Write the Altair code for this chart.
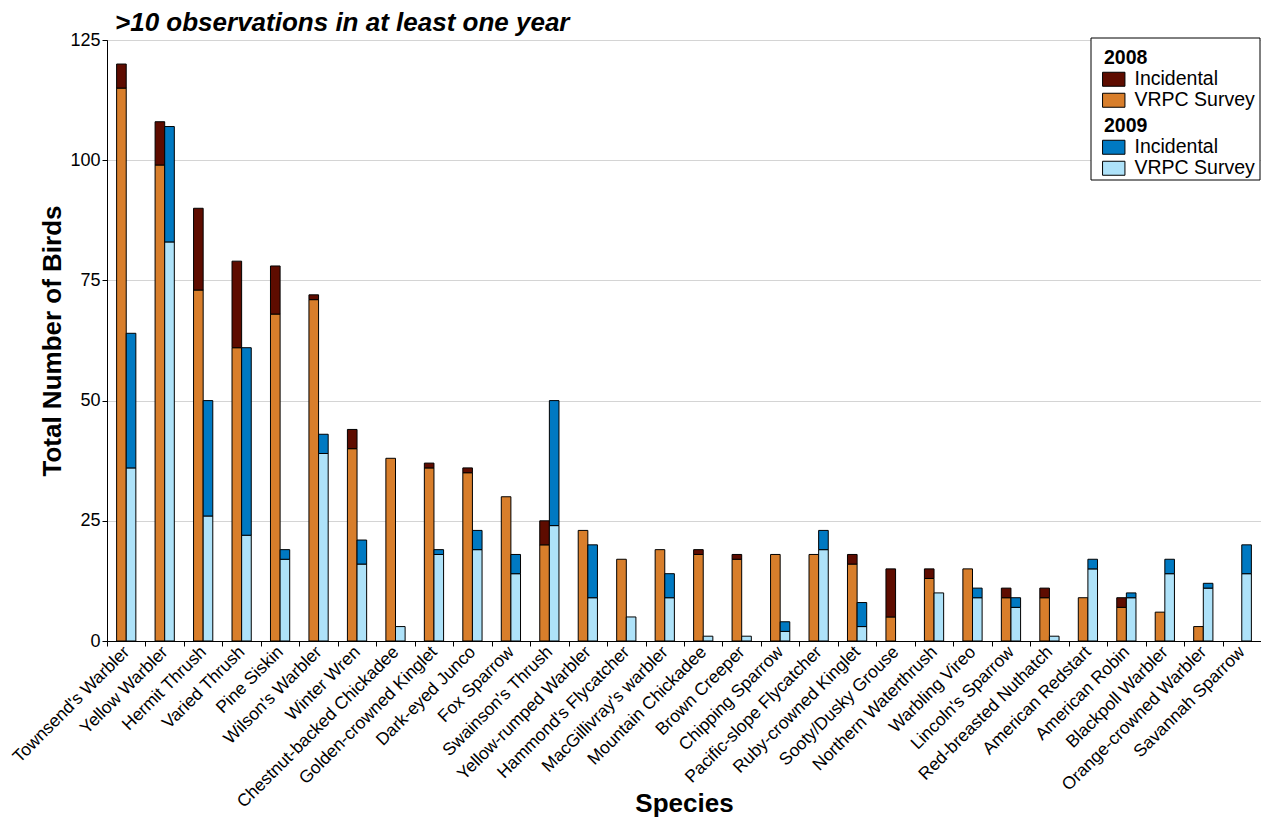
import altair as alt
import pandas as pd

species = [
    "Townsend's Warbler", "Yellow Warbler", "Hermit Thrush", "Varied Thrush", "Pine Siskin",
    "Wilson's Warbler", "Winter Wren", "Chestnut-backed Chickadee", "Golden-crowned Kinglet",
    "Dark-eyed Junco", "Fox Sparrow", "Swainson's Thrush", "Yellow-rumped Warbler",
    "Hammond's Flycatcher", "MacGillivray's warbler", "Mountain Chickadee", "Brown Creeper",
    "Chipping Sparrow", "Pacific-slope Flycatcher", "Ruby-crowned Kinglet", "Sooty/Dusky Grouse",
    "Northern Waterthrush", "Warbling Vireo", "Lincoln's Sparrow", "Red-breasted Nuthatch",
    "American Redstart", "American Robin", "Blackpoll Warbler", "Orange-crowned Warbler",
    "Savannah Sparrow",
]
vrpc_2008 = [115, 99, 73, 61, 68, 71, 40, 38, 36, 35, 30, 20, 23, 17, 19, 18, 17, 18, 18, 16, 5, 13, 15, 9, 9, 9, 7, 6, 3, 0]
incid_2008 = [5, 9, 17, 18, 10, 1, 4, 0, 1, 1, 0, 5, 0, 0, 0, 1, 1, 0, 0, 2, 10, 2, 0, 2, 2, 0, 2, 0, 0, 0]
vrpc_2009 = [36, 83, 26, 22, 17, 39, 16, 3, 18, 19, 14, 24, 9, 5, 9, 1, 1, 2, 19, 3, 0, 10, 9, 7, 1, 15, 9, 14, 11, 14]
incid_2009 = [28, 24, 24, 39, 2, 4, 5, 0, 1, 4, 4, 26, 11, 0, 5, 0, 0, 2, 4, 5, 0, 0, 2, 2, 0, 2, 1, 3, 1, 6]

years = ["2008", "2009"]
types = ["Incidental", "VRPC Survey"]
colors_2008 = ["#5e0c00", "#d87e2b"]
colors_2009 = ["#0079c2", "#aee2f9"]
y_ticks = [0, 25, 50, 75, 100, 125]

rows = []
for i, sp in enumerate(species):
    for yr, v, inc in (("2008", vrpc_2008[i], incid_2008[i]), ("2009", vrpc_2009[i], incid_2009[i])):
        if v > 0:
            rows.append({"Species": sp, "Year": yr, "Type": "VRPC Survey", "Count": v, "ord": 0})
        if inc > 0:
            rows.append({"Species": sp, "Year": yr, "Type": "Incidental", "Count": inc, "ord": 1})
df = pd.DataFrame(rows)

FONT = "Liberation Sans"
W, H = 1154, 601


def layer(year, colors, ly):
    return alt.Chart(df).transform_filter(alt.datum.Year == year).mark_bar(
        stroke="black", strokeWidth=1, opacity=1
    ).encode(
        x=alt.X("Species:N", sort=species, title="Species",
                scale=alt.Scale(paddingInner=0, paddingOuter=0),
                axis=alt.Axis(labelAngle=-45, labelAlign="right", labelBaseline="middle",
                              tickBand="extent", labelFontSize=17.5, labelLimit=0,
                              titleFontSize=26, titleY=170, titleBaseline="alphabetic",
                              labelPadding=3)),
        xOffset=alt.XOffset("Year:N", scale=alt.Scale(domain=years, paddingOuter=1.0, paddingInner=0)),
        y=alt.Y("Count:Q", stack="zero", title="Total Number of Birds",
                scale=alt.Scale(domain=[0, 125], nice=False),
                axis=alt.Axis(values=y_ticks, labelFontSize=18, titleFontSize=26,
                              titlePadding=4)),
        color=alt.Color("Type:N", scale=alt.Scale(domain=types, range=colors),
                        legend=alt.Legend(title=year, orient="none", legendX=997, legendY=ly)),
        order=alt.Order("ord:Q"),
    )


legend_frame = alt.Chart(pd.DataFrame({"k": [0]})).mark_rect(
    fill="white", stroke="black", strokeWidth=1
).encode(
    x=alt.value(984), x2=alt.value(1153), y=alt.value(-2), y2=alt.value(140)
)

chart = alt.layer(
    legend_frame, layer("2008", colors_2008, 9), layer("2009", colors_2009, 77)
).resolve_scale(
    color="independent"
).properties(
    width=W,
    height=H,
    autosize=alt.AutoSizeParams(type="none"),
    padding={"left": 99, "top": 32, "right": 0, "bottom": 176},
    title=alt.TitleParams(">10 observations in at least one year", anchor="start",
                          frame="group", baseline="alphabetic",
                          font=FONT, fontSize=26, fontWeight="bold", fontStyle="italic",
                          color="black", offset=-2, dx=8, dy=24),
).configure_view(
    stroke="black", strokeWidth=1
).configure_axis(
    labelFont=FONT, titleFont=FONT, labelColor="black", titleColor="black",
    domainColor="black", tickColor="black", tickSize=5, titleFontWeight="bold",
    gridColor="#d4d4d4",
).configure_axisX(
    grid=False
).configure_legend(
    padding=0, titleFont=FONT, labelFont=FONT, titleFontSize=19.5, labelFontSize=19.5,
    titleColor="black", labelColor="black", titlePadding=1, rowPadding=0,
    symbolType="M-1.6,-1H1.6V1H-1.6Z", symbolSize=196, symbolStrokeColor="black",
    symbolStrokeWidth=1, symbolOpacity=1, labelOffset=11,
)

chart.save("out.html", embed_options={"renderer": "svg", "actions": False})
